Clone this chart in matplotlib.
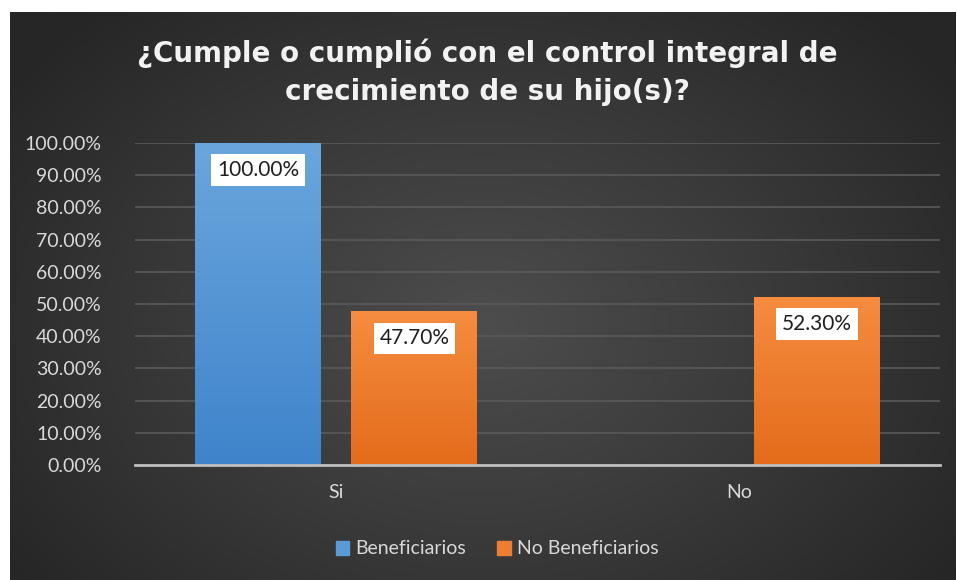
import numpy as np
import matplotlib
matplotlib.use('Agg')
import matplotlib.pyplot as plt
from matplotlib.patches import Patch
from matplotlib.colors import LinearSegmentedColormap

# data
categories = ['Si', 'No']
series_names = ['Beneficiarios', 'No Beneficiarios']
beneficiarios = [100.0, 0.0]
no_beneficiarios = [47.7, 52.3]
yticks = [0, 10, 20, 30, 40, 50, 60, 70, 80, 90, 100]

title = '¿Cumple o cumplió con el control integral de\ncrecimiento de su hijo(s)?'

W, H = 957, 580
fig = plt.figure(figsize=(W / 100, H / 100), dpi=100)
fig.patch.set_facecolor('white')

# dark radial background
bg = fig.add_axes([10 / W, 0, 945 / W, 568 / H])
yy, xx = np.mgrid[0:1:300j, 0:1:500j]
r = np.sqrt(((xx - 0.5) / 0.62) ** 2 + ((yy - 0.55) / 0.75) ** 2)
bg_cmap = LinearSegmentedColormap.from_list('bg', ['#4d4d4d', '#3a3a3a', '#262626'])
bg.imshow(np.clip(r, 0, 1), cmap=bg_cmap, aspect='auto', extent=(0, 1, 0, 1), vmin=0, vmax=1)
bg.axis('off')

ax = fig.add_axes([135 / W, (H - 465) / H, 805 / W, 322 / H])
ax.set_facecolor('none')

x = np.arange(len(categories))
width = 0.313
offset = 0.194

# top row light, bottom row dark
grad = np.linspace(1, 0, 100).reshape(-1, 1)
blue_cmap = LinearSegmentedColormap.from_list('b', ['#3f84cb', '#6aa6dd'])
orange_cmap = LinearSegmentedColormap.from_list('o', ['#e46c1b', '#f58c3f'])

bars1 = ax.bar(x - offset, beneficiarios, width, color='#5b9bd5', zorder=3)
bars2 = ax.bar(x + offset, no_beneficiarios, width, color='#ed7d31', zorder=3)

for bars, cm in [(bars1, blue_cmap), (bars2, orange_cmap)]:
    for b in bars:
        if b.get_height() <= 0:
            continue
        x0, y0 = b.get_x(), b.get_y()
        im = ax.imshow(grad, cmap=cm, aspect='auto', zorder=4, origin='upper',
                       extent=(x0, x0 + b.get_width(), y0, y0 + b.get_height()))
        im.set_clip_path(b)

for bars in [bars1, bars2]:
    for b in bars:
        h = b.get_height()
        if h <= 0:
            continue
        ax.annotate('%.2f%%' % h, (b.get_x() + b.get_width() / 2, h),
                    xytext=(0, -19.5), textcoords='offset points',
                    ha='center', va='center', fontsize=15, family='Lato',
                    color='#1f1f1f', zorder=6,
                    bbox=dict(boxstyle='square,pad=0.28', fc='white', ec='none'))

ax.set_xlim(-0.5, 1.5)
ax.set_ylim(0, 100)
ax.set_yticks(yticks)
ax.set_yticklabels(['%.2f%%' % v for v in yticks])
ax.set_xticks(x)
ax.set_xticklabels(categories)
ax.tick_params(axis='y', length=0, pad=24, labelsize=14, labelcolor='#d9d9d9')
ax.tick_params(axis='x', length=0, pad=14, labelsize=14, labelcolor='#d9d9d9')
for lab in ax.get_xticklabels() + ax.get_yticklabels():
    lab.set_family('Lato')
ax.grid(axis='y', color='#5a5a5a', lw=1.2, zorder=0)
for s in ['top', 'right', 'left']:
    ax.spines[s].set_visible(False)
ax.spines['bottom'].set_color('#bfbfbf')
ax.spines['bottom'].set_linewidth(2)
ax.spines['bottom'].set_zorder(5)

fig.text(487 / W, 1 - 72 / H, title, ha='center', va='center', fontsize=20,
         fontweight='bold', color='#f2f2f2', family='DejaVu Sans', linespacing=1.45)

handles = [Patch(color='#5b9bd5'), Patch(color='#ed7d31')]
fig.legend(handles, series_names, loc='center', bbox_to_anchor=(497 / W, 1 - 549 / H),
           ncol=2, frameon=False, handlelength=0.7, handleheight=0.7,
           handletextpad=0.3, columnspacing=1.6,
           prop={'family': 'Lato', 'size': 14}, labelcolor='#d9d9d9')

plt.savefig('out.png', dpi=100)
plt.close()
